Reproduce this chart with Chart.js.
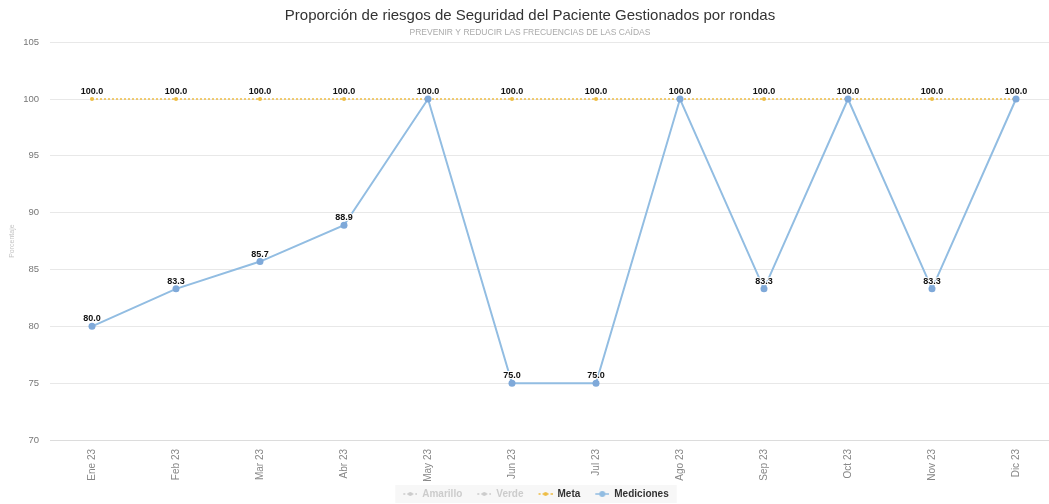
<!DOCTYPE html>
<html>
<head>
<meta charset="utf-8">
<script src="https://cdn.jsdelivr.net/npm/chart.js@4.4.1/dist/chart.umd.min.js"></script>
<style>
  html, body { margin: 0; padding: 0; background: #fff; overflow: hidden; }
  #wrap { width: 1062px; height: 504px; }
</style>
</head>
<body>
<div id="wrap"><canvas id="rondasChart"></canvas></div>
<script>
const meses = ["Ene 23", "Feb 23", "Mar 23", "Abr 23", "May 23", "Jun 23",
  "Jul 23", "Ago 23", "Sep 23", "Oct 23", "Nov 23", "Dic 23"];

const mediciones = [80.0, 83.3, 85.7, 88.9, 100.0, 75.0, 75.0, 100.0, 83.3, 100.0, 83.3, 100.0];
const meta = [100, 100, 100, 100, 100, 100, 100, 100, 100, 100, 100, 100];
const amarillo = [];
const verde = [];

const yTicks = [70, 75, 80, 85, 90, 95, 100, 105];

const colorMeta = "#eebd45",
  colorLinea = "#92bde2",
  colorPunto = "#7fa9d9",
  colorGrid = "#e8e8e8",
  fontFam = "'Liberation Sans', Arial, Helvetica, sans-serif";

// icono de leyenda: margen transparente a la izquierda, linea con punto
const legendIcon = (color, dashed) => {
  const c = document.createElement("canvas");
  c.width = 26;
  c.height = 8;
  const g = c.getContext("2d");
  g.strokeStyle = color;
  g.lineWidth = 1.5;
  if (dashed) g.setLineDash([2, 2]);
  g.beginPath();
  g.moveTo(12, 4);
  g.lineTo(26, 4);
  g.stroke();
  g.fillStyle = color;
  g.beginPath();
  g.arc(19, 4, dashed ? 2 : 3, 0, Math.PI * 2);
  g.fill();
  return c;
};

const valueLabels = {
  id: "valueLabels",
  afterDatasetsDraw(chart) {
    const ctx = chart.ctx;
    ctx.save();
    ctx.font = "bold 9px " + fontFam;
    ctx.textAlign = "center";
    ctx.textBaseline = "bottom";
    ctx.lineJoin = "round";
    chart.data.datasets.forEach((ds, i) => {
      const m = chart.getDatasetMeta(i);
      if (m.hidden || !chart.isDatasetVisible(i)) return;
      m.data.forEach((pt, j) => {
        const v = ds.data[j];
        if (v == null) return;
        const txt = Number(v).toFixed(1);
        ctx.strokeStyle = "#fff";
        ctx.lineWidth = 2;
        ctx.strokeText(txt, pt.x, pt.y - 3);
        ctx.fillStyle = "#111";
        ctx.fillText(txt, pt.x, pt.y - 3);
      });
    });
    ctx.restore();
  },
};

const legendBox = {
  id: "legendBox",
  beforeDraw(chart) {
    const lg = chart.legend;
    if (!lg || !lg.legendHitBoxes.length) return;
    const boxes = lg.legendHitBoxes;
    const x0 = boxes[0].left + 4;
    const last = boxes[boxes.length - 1];
    const x1 = last.left + last.width + 8;
    const y0 = boxes[0].top - 4;
    const h = boxes[0].height + 8;
    chart.ctx.save();
    chart.ctx.fillStyle = "#f7f7f7";
    chart.ctx.fillRect(x0, y0, x1 - x0, h);
    chart.ctx.restore();
  },
};

const rondasCtx = document.getElementById("rondasChart").getContext("2d");

const rondasChart = new Chart(rondasCtx, {
  type: "line",
  data: {
    labels: meses,
    datasets: [
      { label: "Amarillo", data: amarillo, borderColor: "#cccccc", hidden: true, order: 3 },
      { label: "Verde", data: verde, borderColor: "#cccccc", hidden: true, order: 3 },
      {
        label: "Meta",
        data: meta,
        borderColor: colorMeta,
        backgroundColor: colorMeta,
        borderWidth: 1.5,
        borderDash: [2, 2],
        pointRadius: 2,
        pointBorderWidth: 0,
        fill: false,
        order: 2,
      },
      {
        label: "Mediciones",
        data: mediciones,
        borderColor: colorLinea,
        backgroundColor: colorPunto,
        borderWidth: 2,
        pointRadius: 3.5,
        pointBorderWidth: 0,
        fill: false,
        tension: 0,
        order: 1,
      },
    ],
  },
  options: {
    responsive: true,
    maintainAspectRatio: false,
    animation: false,
    layout: { padding: { left: 0, right: 2, top: 7, bottom: -5 } },
    plugins: {
      title: {
        display: true,
        text: "Proporción de riesgos de Seguridad del Paciente Gestionados por rondas",
        color: "#333",
        font: { family: fontFam, size: 15, weight: "normal" },
        padding: { top: 0, bottom: 3 },
      },
      subtitle: {
        display: true,
        text: "PREVENIR Y REDUCIR LAS FRECUENCIAS DE LAS CAÍDAS",
        color: "#aaa",
        font: { family: fontFam, size: 8.5 },
        padding: { top: 0, bottom: 4 },
      },
      legend: {
        position: "bottom",
        labels: {
          usePointStyle: true,
          pointStyleWidth: 26,
          boxHeight: 8,
          padding: 3,
          font: { family: fontFam, size: 10, weight: "bold" },
          generateLabels(chart) {
            return chart.data.datasets.map((ds, i) => {
              const vis = chart.isDatasetVisible(i);
              return {
                text: ds.label,
                datasetIndex: i,
                hidden: false,
                fontColor: vis ? "#333" : "#cccccc",
                pointStyle: legendIcon(vis ? ds.borderColor : "#cccccc", ds.label !== "Mediciones"),
                strokeStyle: "transparent",
                fillStyle: "transparent",
                lineWidth: 0,
              };
            });
          },
        },
      },
      tooltip: { enabled: false },
    },
    scales: {
      x: {
        offset: true,
        grid: { display: false },
        border: { color: "#dcdcdc" },
        afterFit(scale) {
          scale.height = 46;
        },
        ticks: {
          color: "#888",
          padding: 1,
          font: { family: fontFam, size: 10 },
          minRotation: 90,
          maxRotation: 90,
        },
      },
      y: {
        min: 70,
        max: 105,
        afterBuildTicks(scale) {
          scale.ticks = yTicks.map((v) => ({ value: v }));
        },
        afterFit(scale) {
          scale.width = 50;
        },
        grid: { color: colorGrid, drawTicks: false },
        border: { display: false },
        ticks: {
          color: "#777",
          padding: 11,
          font: { family: fontFam, size: 9.5 },
        },
        title: {
          display: true,
          text: "Porcentaje",
          color: "#c4c4c4",
          font: { family: fontFam, size: 7 },
          padding: { top: 8, bottom: 0 },
        },
      },
    },
  },
  plugins: [legendBox, valueLabels],
});
</script>
</body>
</html>
